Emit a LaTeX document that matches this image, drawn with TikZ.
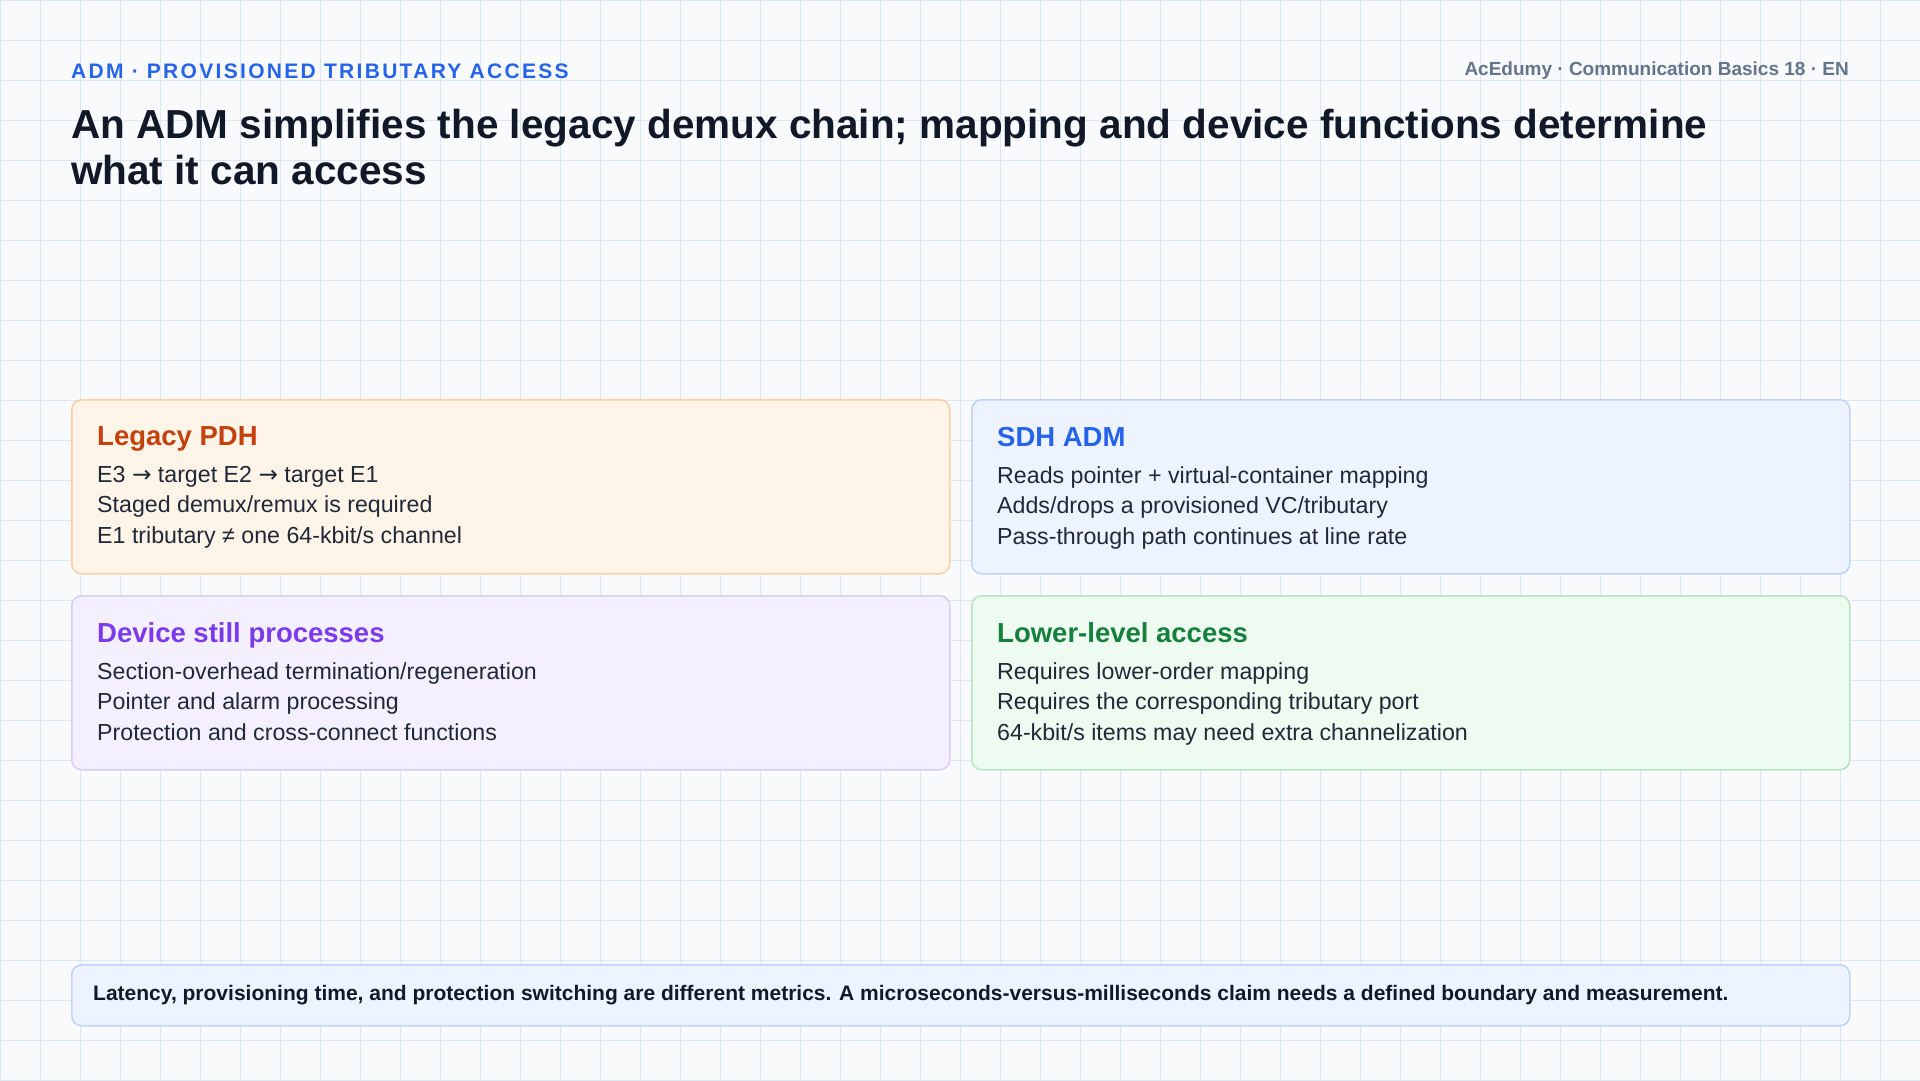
\documentclass[tikz,border=0pt]{standalone}
\usepackage{fontspec}
\setmainfont{Liberation Sans}
\newfontfamily\arrowfont{DejaVu Sans}
\newcommand{\rarr}{{\arrowfont\char"2192}}
\usetikzlibrary{positioning}
\definecolor{bgc}{HTML}{F8FAFC}
\definecolor{gridc}{HTML}{DCE7F3}
\definecolor{ink}{HTML}{1F2937}
\definecolor{inkd}{HTML}{111827}
\definecolor{muted}{HTML}{64748B}
\definecolor{kick}{HTML}{2563EB}
\definecolor{orF}{HTML}{FFF4E8}\definecolor{orD}{HTML}{F8CFA8}\definecolor{orT}{HTML}{C2410C}
\definecolor{blF}{HTML}{EEF4FF}\definecolor{blD}{HTML}{BFD3F8}\definecolor{blT}{HTML}{2563EB}
\definecolor{puF}{HTML}{F5F0FF}\definecolor{puD}{HTML}{D9CCF7}\definecolor{puT}{HTML}{7C3AED}
\definecolor{grF}{HTML}{EEFBF1}\definecolor{grD}{HTML}{B8E3C2}\definecolor{grT}{HTML}{15803D}
\tikzset{
  card/.style={draw=#1D, fill=#1F, line width=1.5pt, rounded corners=10pt, minimum width=878pt, minimum height=174pt, anchor=north west, inner sep=0pt},
  cardtitle/.style={anchor=west, text=#1T, font=\fontsize{27.5}{32}\selectfont\bfseries, inner sep=0pt},
  body/.style={anchor=north west, text=ink, font=\fontsize{23.2}{30.5}\selectfont, align=left, inner sep=0pt}
}
\begin{document}
\begin{tikzpicture}[x=1pt, y=-1pt]
	\useasboundingbox (0,0) rectangle (1920,1080);
	\fill[bgc] (0,0) rectangle (1920,1080);
	\foreach \gx in {0,40,...,1920} \draw[gridc, line width=1pt] (\gx,0) -- (\gx,1080);
	\foreach \gy in {0,40,...,1080} \draw[gridc, line width=1pt] (0,\gy) -- (1920,\gy);
	% header
	\node[anchor=west, text=kick, inner sep=0pt, font=\fontsize{21}{24}\selectfont\bfseries\addfontfeatures{LetterSpace=11}] (kicker) at (71,71) {ADM · PROVISIONED TRIBUTARY ACCESS};
	\node[anchor=east, text=muted, inner sep=0pt, font=\fontsize{19}{22}\selectfont\bfseries] (source) at (1849,71) {AcEdumy · Communication Basics 18 · EN};
	\node[anchor=north west, text=inkd, inner sep=0pt, align=left, font=\fontsize{40.5}{46}\selectfont\bfseries] (title) at (71,109) {An ADM simplifies the legacy demux chain; mapping and device functions determine\\what it can access};
	% cards
	\node[card=or] (pdh) at (71,399) {};
	\node[card=bl] (sdh) at (971,399) {};
	\node[card=pu] (dev) at (71,595) {};
	\node[card=gr] (low) at (971,595) {};
	\node[cardtitle=or] (pdhT) at ([xshift=26pt, yshift=-40pt]pdh.north west) {Legacy PDH};
	\node[body] (pdhB) at ([yshift=-27pt]pdhT.west) {E3 \rarr{} target E2 \rarr{} target E1\\Staged demux/remux is required\\E1 tributary ≠ one 64-kbit/s channel};
	\node[cardtitle=bl] (sdhT) at ([xshift=26pt, yshift=-38pt]sdh.north west) {SDH ADM};
	\node[body] (sdhB) at ([yshift=-29pt]sdhT.west) {Reads pointer + virtual-container mapping\\Adds/drops a provisioned VC/tributary\\Pass-through path continues at line rate};
	\node[cardtitle=pu] (devT) at ([xshift=26pt, yshift=-40pt]dev.north west) {Device still processes};
	\node[body] (devB) at ([yshift=-27pt]devT.west) {Section-overhead termination/regeneration\\Pointer and alarm processing\\Protection and cross-connect functions};
	\node[cardtitle=gr] (lowT) at ([xshift=26pt, yshift=-38pt]low.north west) {Lower-level access};
	\node[body] (lowB) at ([yshift=-29pt]lowT.west) {Requires lower-order mapping\\Requires the corresponding tributary port\\64-kbit/s items may need extra channelization};
	% footer note
	\node[draw=blD, fill=blF, line width=1.5pt, rounded corners=10pt, minimum width=1778pt, minimum height=61pt, anchor=north west] (note) at (71,964) {};
	\node[anchor=west, text=inkd, inner sep=0pt, font=\fontsize{21}{24}\selectfont\bfseries] (noteT) at ([xshift=22pt]note.west) {Latency, provisioning time, and protection switching are different metrics. A microseconds-versus-milliseconds claim needs a defined boundary and measurement.};
\end{tikzpicture}
\end{document}
